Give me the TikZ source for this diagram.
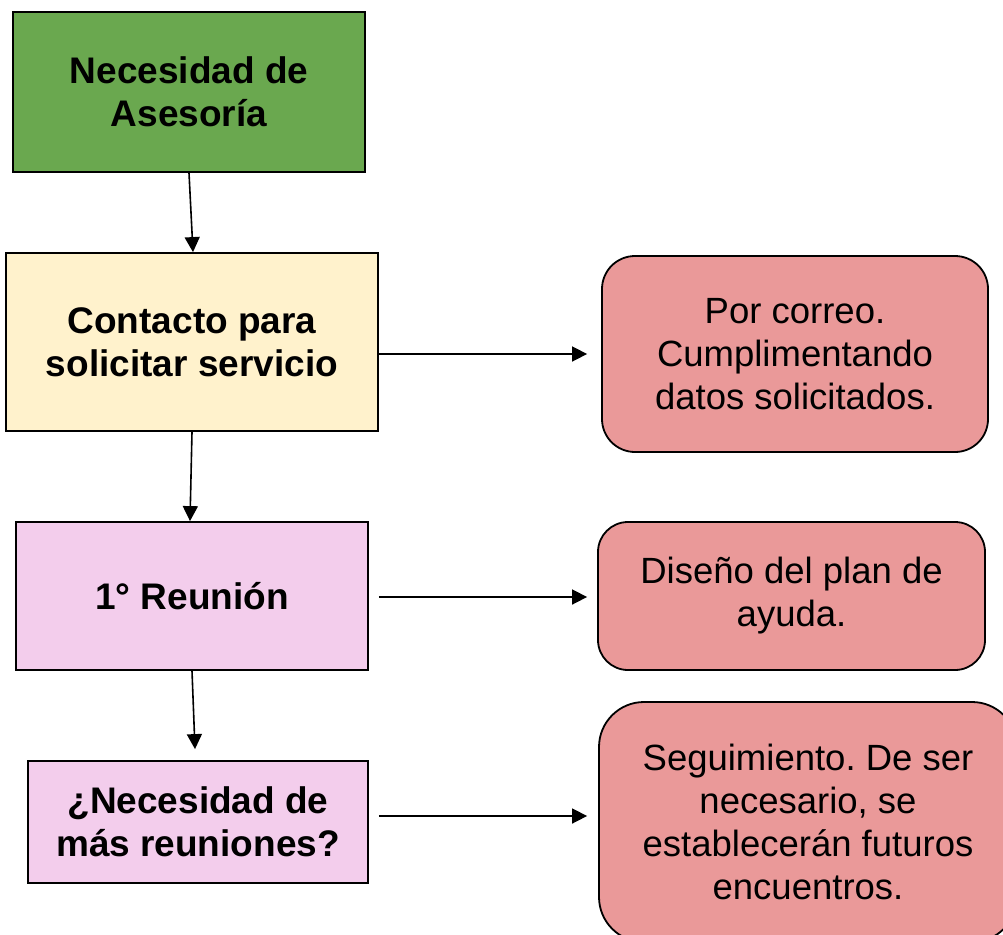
\documentclass[tikz,border=0pt]{standalone}
\usepackage{fontspec}
\setmainfont{Liberation Sans}
\usetikzlibrary{arrows.meta}
\definecolor{cgreen}{HTML}{6AA84F}
\definecolor{cyellow}{HTML}{FFF2CC}
\definecolor{cpink}{HTML}{F3CDEC}
\definecolor{cred}{HTML}{EA9999}
\frenchspacing
\tikzset{
  flowbox/.style={draw=black, line width=1.8pt, rectangle, align=center, inner sep=0pt,
    font=\fontsize{37}{43}\selectfont\bfseries},
  notebox/.style={draw=black, line width=1.8pt, rectangle, rounded corners=33pt, fill=cred,
    align=center, inner sep=0pt, font=\fontsize{36.5}{43}\selectfont},
  conn/.style={line width=1.6pt, -{Triangle[width=15pt,length=15pt]}}
}
\begin{document}
\begin{tikzpicture}[x=1pt,y=-1pt]
\useasboundingbox (0,0) rectangle (1003,934);
\clip (0,0) rectangle (1003,934);
\node[flowbox, fill=cgreen, minimum width=352pt, minimum height=160pt] (n1) at (189,92) {Necesidad de\\Asesoría};
\node[flowbox, fill=cyellow, minimum width=372pt, minimum height=178pt] (n2) at (192,342) {Contacto para\\solicitar servicio};
\node[flowbox, fill=cpink, minimum width=352pt, minimum height=148pt] (n3) at (192,596) {1° Reunión};
\node[flowbox, fill=cpink, minimum width=340pt, minimum height=122pt] (n4) at (198,822) {¿Necesidad de\\más reuniones?};
\node[notebox, minimum width=386pt, minimum height=196pt] (n5) at (795,354) {Por correo.\\Cumplimentando\\datos solicitados.};
\node[notebox, minimum width=387pt, minimum height=148pt, rounded corners=30pt] (n6) at (791.5,596) {Diseño del plan de\\ayuda.};
\node[notebox, minimum width=418pt, minimum height=240pt, rounded corners=45pt] (n7) at (808,822) {Seguimiento. De ser\\necesario, se\\establecerán futuros\\encuentros.};
\draw[conn] (n1.south) -- ([xshift=1pt]n2.north);
\draw[conn] (n2.south) -- ([xshift=-2pt]n3.north);
\draw[conn] (n3.south) -- ([xshift=-3pt,yshift=11pt]n4.north);
\coordinate (a1) at ([yshift=-12pt]n2.east);
\coordinate (b1) at ([xshift=-14pt]n5.west);
\draw[conn] (a1) -- (b1);
\coordinate (a2) at ([xshift=10pt,yshift=-1pt]n3.east);
\coordinate (b2) at ([xshift=-10pt,yshift=-1pt]n6.west);
\draw[conn] (a2) -- (b2);
\coordinate (a3) at ([xshift=10pt,yshift=6pt]n4.east);
\coordinate (b3) at ([xshift=-11pt]n7.west |- a3);
\draw[conn] (a3) -- (b3);
\end{tikzpicture}
\end{document}
